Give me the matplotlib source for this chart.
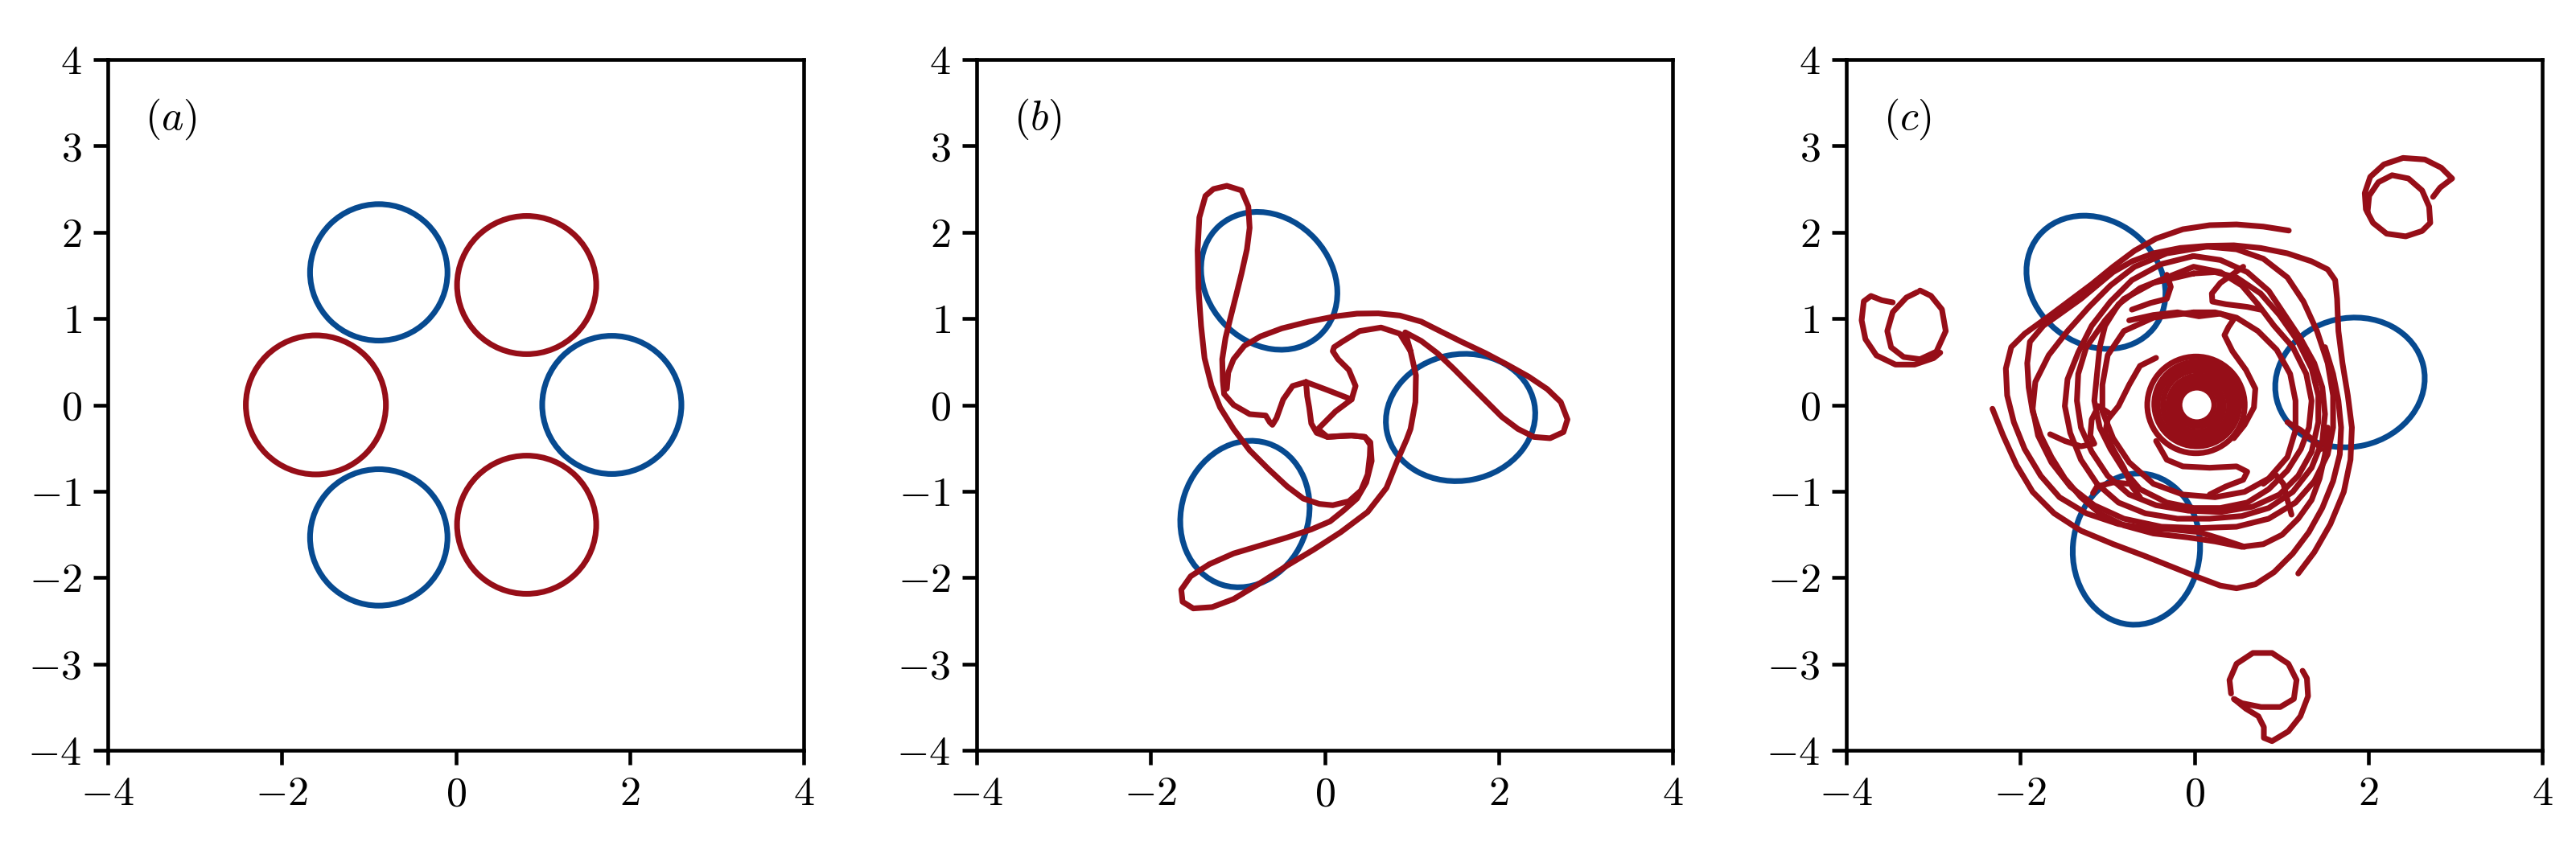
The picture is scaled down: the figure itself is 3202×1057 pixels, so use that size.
import numpy as np
import matplotlib.pyplot as plt
from matplotlib.patches import Ellipse

plt.rcParams.update({
    'font.family': 'serif',
    'font.serif': ['cmr10'],
    'mathtext.fontset': 'cm',
    'axes.formatter.use_mathtext': True,
    'font.size': 12.5,
    'axes.linewidth': 1.1,
    'xtick.major.width': 1.1,
    'ytick.major.width': 1.1,
    'xtick.major.size': 4.3,
    'ytick.major.size': 4.3,
})

BLUE = '#074A90'
RED = '#960E18'
LW = 1.7

# ---- panel (a): six vortex patches (centre x, centre y, radius)
a_x = [-0.885, 0.815, 1.794, 0.815, -0.885, -1.608]
a_y = [1.535, 1.388, 0.0, -1.388, -1.535, 0.0]
a_r = [0.79, 0.80, 0.80, 0.80, 0.79, 0.805]
a_col = [BLUE, RED, BLUE, RED, BLUE, RED]

# ---- panel (b): blue patches as ellipses (x, y, width, height, angle)
b_ex = [-0.637, 1.563, -0.916]
b_ey = [1.437, -0.146, -1.264]
b_ew = [1.716, 1.726, 1.72]
b_eh = [1.435, 1.464, 1.46]
b_ea = [-48, 11, 72]

# red contour of panel (b), traced by hand
b_red_1 = [(-0.214, 0.265), (-0.20, 0.10), (-0.177, -0.03), (-0.153, -0.216), (-0.091, -0.324),
           (0.032, -0.371), (0.18, -0.36), (0.31, -0.355), (0.464, -0.371), (0.525, -0.464),
           (0.52, -0.588), (0.495, -0.805), (0.418, -0.992), (0.279, -1.116), (0.094, -1.162),
           (-0.06, -1.147), (-0.245, -1.085), (-0.43, -0.945), (-0.646, -0.743), (-0.862, -0.526),
           (-1.047, -0.278), (-1.201, -0.03), (-1.30, 0.219), (-1.38, 0.54), (-1.42, 0.915),
           (-1.45, 1.35), (-1.46, 1.79), (-1.44, 2.17), (-1.37, 2.42), (-1.278, 2.50),
           (-1.124, 2.537), (-0.955, 2.484), (-0.877, 2.298), (-0.862, 2.05), (-0.893, 1.802),
           (-0.955, 1.522), (-1.016, 1.274), (-1.078, 1.026), (-1.139, 0.777), (-1.177, 0.529),
           (-1.17, 0.281), (-1.155, 0.126), (-1.047, 0.0), (-0.862, -0.107), (-0.677, -0.123),
           (-0.631, -0.2), (-0.6, -0.231), (-0.553, -0.154), (-0.476, 0.063), (-0.368, 0.219),
           (-0.214, 0.265)]
b_red_2 = [(-1.124, 0.188), (-1.108, 0.374), (-1.047, 0.529), (-0.923, 0.684), (-0.738, 0.793),
           (-0.492, 0.886), (-0.183, 0.964), (0.125, 1.026), (0.372, 1.057), (0.618, 1.06),
           (0.865, 1.035), (1.112, 0.964), (1.327, 0.855), (1.574, 0.731), (1.852, 0.598),
           (2.098, 0.467), (2.345, 0.328), (2.561, 0.182), (2.715, 0.033), (2.792, -0.169),
           (2.746, -0.315), (2.592, -0.386), (2.407, -0.371), (2.222, -0.278), (2.037, -0.138),
           (1.852, 0.048), (1.667, 0.234), (1.482, 0.421), (1.297, 0.598), (1.112, 0.74),
           (0.927, 0.84), (0.988, 0.622), (1.05, 0.343), (1.044, 0.033), (0.988, -0.278),
           (0.942, -0.402), (0.834, -0.65), (0.711, -0.961), (0.495, -1.24), (0.187, -1.473),
           (-0.122, -1.674), (-0.43, -1.86), (-0.738, -2.062), (-1.047, -2.249), (-1.293, -2.342),
           (-1.51, -2.357), (-1.633, -2.28), (-1.648, -2.14), (-1.54, -1.985), (-1.325, -1.845),
           (-1.047, -1.721), (-0.738, -1.628), (-0.43, -1.535), (-0.153, -1.442), (0.063, -1.349),
           (0.217, -1.224), (0.372, -1.085), (0.479, -0.898), (0.541, -0.65), (0.526, -0.433),
           (0.464, -0.371), (0.31, -0.355), (0.032, -0.371), (-0.076, -0.28), (0.125, -0.076),
           (0.31, 0.063), (0.356, 0.219), (0.279, 0.405), (0.155, 0.529), (0.094, 0.622),
           (0.109, 0.669), (0.202, 0.731), (0.402, 0.855), (0.649, 0.896), (0.865, 0.824),
           (0.988, 0.622)]
b_red_3 = [(-0.214, 0.265), (0.032, 0.172), (0.31, 0.063)]

# ---- panel (c)
c_ex = [-1.13, 1.79, -0.665]
c_ey = [1.42, 0.26, -1.67]
c_ew = [1.70, 1.73, 1.754]
c_eh = [1.43, 1.49, 1.462]
c_ea = [-39, 13, 85]

c_sat_tr = [(2.745, 2.409), (2.826, 2.516), (2.964, 2.622), (2.839, 2.747), (2.651, 2.842),
            (2.40, 2.86), (2.18, 2.785), (2.023, 2.641), (1.96, 2.453), (1.973, 2.265),
            (2.055, 2.108), (2.211, 1.983), (2.431, 1.952), (2.619, 2.014), (2.713, 2.108),
            (2.70, 2.296), (2.619, 2.484), (2.462, 2.622), (2.274, 2.66), (2.117, 2.579),
            (2.011, 2.422), (1.992, 2.234)]
c_sat_l_out = [(-3.466, 1.187), (-3.592, 1.212), (-3.717, 1.262), (-3.799, 1.2), (-3.824, 0.98),
               (-3.78, 0.761), (-3.654, 0.573), (-3.435, 0.467), (-3.215, 0.467), (-2.996, 0.542),
               (-2.92, 0.605)]
c_sat_l_in = [(-3.184, 1.306), (-3.309, 1.244), (-3.466, 1.075), (-3.529, 0.855), (-3.485, 0.667),
              (-3.341, 0.555), (-3.153, 0.529), (-2.964, 0.617), (-2.857, 0.855), (-2.901, 1.106),
              (-3.027, 1.263), (-3.153, 1.325)]
c_sat_b = [(0.423, -3.343), (0.405, -3.186), (0.486, -2.998), (0.674, -2.873), (0.894, -2.873),
           (1.082, -2.998), (1.176, -3.186), (1.145, -3.405), (0.988, -3.499), (0.768, -3.499),
           (0.549, -3.455), (0.455, -3.405), (0.593, -3.518), (0.737, -3.606), (0.80, -3.731),
           (0.80, -3.856), (0.894, -3.894), (1.082, -3.781), (1.22, -3.606), (1.308, -3.374),
           (1.295, -3.167), (1.245, -3.079)]

c_outer_1 = [(-2.320, -0.045), (-2.197, -0.355), (-2.043, -0.697), (-1.858, -1.007), (-1.611, -1.256),
             (-1.303, -1.457), (-0.933, -1.612), (-0.563, -1.752), (-0.254, -1.876), (0.054, -2.0),
             (0.30, -2.093), (0.486, -2.124), (0.702, -2.078), (0.917, -1.938), (1.133, -1.721),
             (1.318, -1.473), (1.472, -1.193), (1.596, -0.883), (1.673, -0.573), (1.688, -0.262),
             (1.657, 0.048), (1.596, 0.359), (1.503, 0.669)]
c_outer_2 = [(1.195, -1.953), (1.380, -1.706), (1.565, -1.380), (1.719, -1.007), (1.796, -0.635),
             (1.812, -0.262), (1.765, 0.110), (1.704, 0.483), (1.657, 0.855), (1.642, 1.228),
             (1.620, 1.445), (1.534, 1.569), (1.349, 1.662), (1.071, 1.755), (0.763, 1.817),
             (0.455, 1.848), (0.146, 1.842), (-0.162, 1.817), (-0.470, 1.755), (-0.717, 1.662),
             (-0.933, 1.538), (-1.118, 1.383), (-1.303, 1.228), (-1.519, 1.072), (-1.735, 0.917),
             (-1.889, 0.731), (-1.920, 0.483), (-1.904, 0.203), (-1.858, -0.076), (-1.765, -0.355),
             (-1.642, -0.604), (-1.488, -0.852), (-1.303, -1.070), (-1.087, -1.256), (-0.809, -1.396),
             (-0.470, -1.489), (-0.069, -1.535), (0.239, -1.581), (0.547, -1.644), (0.794, -1.613),
             (1.010, -1.504), (1.195, -1.318), (1.349, -1.101), (1.441, -0.852), (1.503, -0.573),
             (1.534, -0.262)]
c_outer_3 = [(1.087, 2.019), (0.794, 2.065), (0.486, 2.090), (0.177, 2.081), (-0.131, 2.034),
             (-0.439, 1.926), (-0.686, 1.786), (-0.933, 1.600), (-1.179, 1.398), (-1.426, 1.212),
             (-1.673, 1.026), (-1.950, 0.824), (-2.104, 0.669), (-2.166, 0.421), (-2.151, 0.110),
             (-2.074, -0.200), (-1.950, -0.511), (-1.765, -0.821), (-1.549, -1.070), (-1.241, -1.256),
             (-0.871, -1.380), (-0.563, -1.427), (-0.254, -1.442), (0.054, -1.473), (0.30, -1.550),
             (0.578, -1.644)]
c_ring_1 = [(-0.316, 1.476), (-0.624, 1.352), (-0.871, 1.165), (-1.025, 0.917), (-1.087, 0.669),
            (-1.118, 0.359), (-1.149, 0.048), (-1.087, -0.262), (-0.964, -0.511), (-0.809, -0.759),
            (-0.624, -0.976), (-0.316, -1.131), (-0.008, -1.194), (0.30, -1.194), (0.609, -1.131),
            (0.856, -0.976), (1.071, -0.759), (1.226, -0.511), (1.318, -0.262), (1.349, 0.048),
            (1.287, 0.359), (1.133, 0.669), (0.917, 0.917), (0.732, 1.165), (0.547, 1.383),
            (0.30, 1.538), (-0.008, 1.600), (-0.316, 1.476)]
c_ring_2 = [(-0.008, 1.724), (-0.378, 1.631), (-0.717, 1.445), (-0.964, 1.196), (-1.179, 0.917),
            (-1.334, 0.607), (-1.457, 0.297), (-1.488, -0.014), (-1.426, -0.324), (-1.303, -0.635),
            (-1.118, -0.914), (-0.871, -1.131), (-0.563, -1.256), (-0.193, -1.318), (0.177, -1.318),
            (0.547, -1.287), (0.856, -1.194), (1.133, -1.007), (1.349, -0.728), (1.472, -0.417),
            (1.503, -0.107), (1.472, 0.203), (1.380, 0.483), (1.226, 0.762), (1.041, 1.041),
            (0.856, 1.321), (0.609, 1.538), (0.30, 1.678), (-0.008, 1.724)]
c_ring_3 = [(0.146, 1.833), (-0.316, 1.755), (-0.686, 1.600), (-0.964, 1.383), (-1.210, 1.134),
            (-1.457, 0.855), (-1.673, 0.576), (-1.827, 0.266), (-1.858, -0.045), (-1.796, -0.355),
            (-1.642, -0.666), (-1.426, -0.945), (-1.149, -1.163), (-0.809, -1.318), (-0.378, -1.411),
            (0.054, -1.427), (0.486, -1.411), (0.856, -1.318), (1.164, -1.131), (1.380, -0.883),
            (1.534, -0.573), (1.596, -0.262), (1.596, 0.110), (1.534, 0.483), (1.411, 0.855),
            (1.256, 1.196), (1.071, 1.476), (0.794, 1.693), (0.486, 1.802), (0.146, 1.833)]
c_ring_4 = [(-0.008, 1.522), (-0.470, 1.414), (-0.809, 1.228), (-1.025, 0.979), (-1.241, 0.669),
            (-1.334, 0.359), (-1.349, 0.048), (-1.303, -0.262), (-1.179, -0.542), (-0.995, -0.821),
            (-0.748, -1.038), (-0.439, -1.162), (-0.069, -1.225), (0.301, -1.241), (0.671, -1.179),
            (0.979, -1.038), (1.195, -0.821), (1.349, -0.542), (1.426, -0.200), (1.426, 0.110),
            (1.349, 0.421), (1.195, 0.731), (0.979, 1.041), (0.763, 1.290), (0.486, 1.476),
            (0.239, 1.538), (-0.008, 1.522)]
c_ring_5 = [(-0.008, 1.072), (-0.470, 1.010), (-0.809, 0.855), (-0.995, 0.576), (-1.056, 0.234),
            (-1.056, -0.076), (-0.933, -0.386), (-0.748, -0.666), (-0.470, -0.914), (-0.131, -1.038),
            (0.239, -1.069), (0.578, -1.007), (0.856, -0.852), (1.071, -0.604), (1.164, -0.293),
            (1.164, 0.048), (1.102, 0.359), (0.948, 0.638), (0.732, 0.855), (0.486, 1.010),
            (0.239, 1.072), (-0.008, 1.072)]
c_hooks = [
    [(0.563, 1.600), (0.455, 1.522), (0.301, 1.414), (0.202, 1.290), (0.208, 1.197), (0.362, 1.166),
     (0.609, 1.135), (0.763, 1.103)],
    [(-0.316, 1.507), (-0.270, 1.367), (-0.316, 1.228), (-0.501, 1.181), (-0.717, 1.103)],
    [(-0.748, 0.979), (-0.470, 1.041), (-0.193, 1.072), (0.054, 1.026), (0.301, 1.057), (0.455, 0.995),
     (0.393, 0.901), (0.347, 0.808), (0.439, 0.622), (0.594, 0.405), (0.702, 0.188), (0.686, -0.029),
     (0.578, -0.231), (0.455, -0.386)],
    [(-0.964, -0.107), (-1.102, -0.014), (-1.179, -0.169), (-1.195, -0.355), (-1.149, -0.449),
     (-1.303, -0.480), (-1.488, -0.418), (-1.657, -0.340)],
    [(-0.439, 0.545), (-0.624, 0.452), (-0.748, 0.234), (-0.871, -0.014), (-0.995, -0.169),
     (-1.025, -0.324), (-0.933, -0.511), (-0.809, -0.728), (-0.717, -0.945), (-0.624, -1.069)],
    [(-0.439, -0.418), (-0.316, -0.635), (-0.131, -0.712), (0.177, -0.728), (0.486, -0.712),
     (0.609, -0.774), (0.563, -0.867), (0.362, -0.945), (0.177, -1.038)],
    [(0.794, -0.914), (0.933, -0.805), (1.025, -0.914), (1.071, -1.100), (1.118, -1.271)],
    [(1.071, -0.200), (1.226, -0.293), (1.380, -0.417), (1.457, -0.511)],
    [(-1.164, -1.021), (-1.118, -0.945), (-0.933, -0.898), (-0.748, -0.914)],
]
# central rolled-up core: rings (centre x, centre y, radius)
core_x = [0.03, 0.04, 0.04, 0.05, 0.04, 0.03, 0.03, 0.02]
core_y = [0.00, 0.00, -0.01, -0.01, 0.00, 0.00, 0.01, 0.00]
core_r = [0.20, 0.25, 0.30, 0.35, 0.40, 0.45, 0.49, 0.56]

labels = ['$(a)$', '$(b)$', '$(c)$']

fig = plt.figure(figsize=(3202 / 300, 1057 / 300), dpi=300)
lefts = [134 / 3202, 1214 / 3202, 2295 / 3202]
axes = [fig.add_axes([l, 124 / 1057, 865 / 3202, 859 / 1057]) for l in lefts]


def red_line(ax, pts):
    xs, ys = zip(*pts)
    ax.plot(xs, ys, color=RED, lw=LW, solid_joinstyle='round', solid_capstyle='round', zorder=3)


def ellipses(ax, xs, ys, ws, hs, angs, cols, z=2):
    for x, y, w, h, a, c in zip(xs, ys, ws, hs, angs, cols):
        ax.add_patch(Ellipse((x, y), w, h, angle=a, fill=False, edgecolor=c, lw=LW, zorder=z))


ellipses(axes[0], a_x, a_y, [2 * r for r in a_r], [2 * r for r in a_r], [0] * 6, a_col)

ellipses(axes[1], b_ex, b_ey, b_ew, b_eh, b_ea, [BLUE] * 3)
for s in [b_red_1, b_red_2, b_red_3]:
    red_line(axes[1], s)

ellipses(axes[2], c_ex, c_ey, c_ew, c_eh, c_ea, [BLUE] * 3)
for s in [c_sat_tr, c_sat_l_out, c_sat_l_in, c_sat_b, c_outer_1, c_outer_2, c_outer_3,
          c_ring_1, c_ring_2, c_ring_3, c_ring_4, c_ring_5] + c_hooks:
    red_line(axes[2], s)
ellipses(axes[2], core_x, core_y, [2 * r for r in core_r], [2 * r for r in core_r],
         [0] * len(core_r), [RED] * len(core_r), z=3)

for ax, lab in zip(axes, labels):
    ax.set_xlim(-4, 4)
    ax.set_ylim(-4, 4)
    ax.set_xticks([-4, -2, 0, 2, 4])
    ax.set_yticks(np.arange(-4, 5, 1))
    ax.text(0.053, 0.914, lab, transform=ax.transAxes, ha='left', va='center', fontsize=12.5)

fig.savefig('out.png', dpi=300)
